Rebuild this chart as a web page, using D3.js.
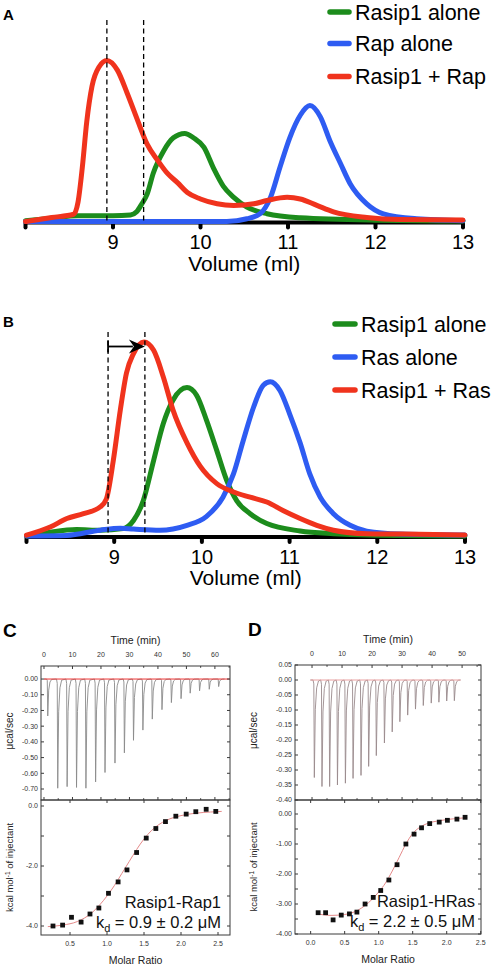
<!DOCTYPE html>
<html><head><meta charset="utf-8">
<script src="https://cdn.jsdelivr.net/npm/d3@7"></script>
<style>body{margin:0;background:#fff}svg{display:block}text{font-family:"Liberation Sans",Arial,sans-serif}</style>
</head><body><svg id="c" width="494" height="965"></svg>
<script>
// ---------- Data: size-exclusion chromatograms (volume ml, relative absorbance) ----------
const volumeTicks = [8, 9, 10, 11, 12, 13];
const volumeLabels = ["9", "10", "11", "12", "13"];
const dashedVolumes = [8.93, 9.35];
const legendA = ["Rasip1 alone", "Rap alone", "Rasip1 + Rap"];
const legendB = ["Rasip1 alone", "Ras alone", "Rasip1 + Ras"];
const seriesColors = ["#1c8c1c", "#2e5cf2", "#f0331d"];

const aRasip = [[8.0,0.005],[8.3,0.02],[8.6,0.035],[9.0,0.035],[9.2,0.04],[9.27,0.06],[9.33,0.11],[9.39,0.17],[9.46,0.30],[9.58,0.44],[9.69,0.52],[9.82,0.547],[9.92,0.52],[10.04,0.46],[10.15,0.33],[10.26,0.22],[10.38,0.15],[10.53,0.09],[10.76,0.048],[11.14,0.023],[12.0,0.008],[13.0,0.003]];
const aRap = [[8.0,0],[10.3,0],[10.53,0.017],[10.68,0.048],[10.80,0.15],[10.91,0.34],[11.02,0.52],[11.14,0.66],[11.25,0.72],[11.37,0.65],[11.48,0.50],[11.6,0.36],[11.71,0.235],[11.9,0.11],[12.09,0.048],[12.47,0.017],[13.0,0.005]];
const aComplex = [[8.0,0.0],[8.3,0.025],[8.55,0.045],[8.6,0.12],[8.65,0.34],[8.7,0.62],[8.76,0.84],[8.84,0.96],[8.93,1.0],[9.05,0.94],[9.16,0.80],[9.28,0.63],[9.39,0.48],[9.51,0.38],[9.62,0.30],[9.74,0.24],[9.85,0.18],[10.0,0.14],[10.19,0.11],[10.38,0.10],[10.61,0.11],[10.76,0.13],[10.99,0.15],[11.14,0.14],[11.33,0.10],[11.52,0.06],[11.9,0.025],[12.28,0.012],[13.0,0.01]];

const bRasip = [[8.0,0],[8.27,0.02],[8.57,0.033],[8.84,0.03],[9.1,0.038],[9.22,0.08],[9.33,0.18],[9.45,0.39],[9.56,0.58],[9.67,0.70],[9.83,0.765],[9.94,0.725],[10.05,0.60],[10.17,0.44],[10.28,0.29],[10.4,0.18],[10.55,0.115],[10.74,0.064],[11.12,0.026],[11.5,0.012],[11.88,0.005],[13.0,0]];
const bRas = [[8.0,0],[8.46,0.003],[8.84,0.03],[9.07,0.04],[9.22,0.036],[9.52,0.03],[9.83,0.055],[10.05,0.1],[10.24,0.2],[10.36,0.32],[10.47,0.49],[10.59,0.665],[10.7,0.777],[10.78,0.795],[10.89,0.75],[11.0,0.63],[11.12,0.48],[11.23,0.32],[11.35,0.2],[11.5,0.115],[11.69,0.055],[11.88,0.025],[12.26,0.01],[13.0,0.005]];
const bComplex = [[8.0,0.004],[8.27,0.046],[8.46,0.09],[8.65,0.115],[8.84,0.15],[8.91,0.19],[8.99,0.39],[9.07,0.65],[9.14,0.84],[9.22,0.94],[9.34,1.0],[9.45,0.957],[9.56,0.82],[9.67,0.65],[9.83,0.48],[9.98,0.36],[10.17,0.27],[10.36,0.227],[10.55,0.20],[10.74,0.175],[10.93,0.13],[11.12,0.09],[11.31,0.055],[11.5,0.03],[11.88,0.012],[12.26,0.01],[13.0,0.005]];

// ---------- Data: ITC ----------
const cTimes = [1.2,4.7,8.0,11.3,14.6,18.0,21.3,24.8,28.1,31.3,34.6,37.9,41.3,44.6,48.0,51.2,54.5,57.9,61.2];
const cDepths = [-0.235,-0.695,-0.685,-0.69,-0.695,-0.655,-0.595,-0.535,-0.47,-0.39,-0.325,-0.255,-0.195,-0.15,-0.125,-0.09,-0.075,-0.065,-0.048];
const dTimes = [0.65,3.2,5.75,8.35,11.0,13.55,16.2,18.75,21.3,24.0,26.6,29.15,31.75,34.35,36.95,39.6,42.15,44.75,47.3];
const dDepths = [-0.325,-0.355,-0.355,-0.35,-0.344,-0.328,-0.318,-0.288,-0.252,-0.21,-0.173,-0.139,-0.117,-0.097,-0.085,-0.077,-0.074,-0.07,-0.069];

const cRatio = [0.27,0.40,0.52,0.65,0.77,0.89,1.02,1.15,1.27,1.40,1.53,1.66,1.79,1.93,2.07,2.20,2.34,2.47];
const cHeat = [-4.0,-3.97,-3.71,-3.87,-3.60,-3.40,-2.91,-2.53,-2.13,-1.55,-1.07,-0.75,-0.52,-0.34,-0.27,-0.19,-0.11,-0.18];
const cFitRatio = [0.2,0.4,0.6,0.8,0.9,1.0,1.1,1.2,1.3,1.4,1.5,1.6,1.7,1.8,2.0,2.2,2.4,2.55];
const cFitHeat = [-4.02,-3.97,-3.85,-3.55,-3.3,-3.0,-2.65,-2.25,-1.85,-1.45,-1.1,-0.82,-0.62,-0.48,-0.32,-0.24,-0.2,-0.18];

const dRatio = [0.11,0.22,0.33,0.45,0.57,0.68,0.80,0.92,1.03,1.15,1.27,1.40,1.52,1.63,1.75,1.89,2.01,2.15,2.27];
const dHeat = [-3.29,-3.29,-3.53,-3.37,-3.33,-3.27,-3.00,-2.78,-2.55,-2.20,-1.69,-1.00,-0.67,-0.46,-0.32,-0.27,-0.21,-0.17,-0.11];
const dFitRatio = [0.1,0.3,0.5,0.7,0.8,0.9,1.0,1.1,1.2,1.3,1.4,1.5,1.6,1.7,1.9,2.1,2.3];
const dFitHeat = [-3.33,-3.38,-3.35,-3.2,-3.05,-2.85,-2.6,-2.3,-1.9,-1.45,-1.0,-0.65,-0.45,-0.33,-0.22,-0.16,-0.12];

const cTimeTicks = [0,10,20,30,40,50,60];
const cRawTicks = [0,-0.1,-0.2,-0.3,-0.4,-0.5,-0.6,-0.7];
const cRatioTicks = [0.5,1.0,1.5,2.0,2.5];
const cHeatTicks = [0,-2,-4];
const dTimeTicks = [0,10,20,30,40,50];
const dRawTicks = [0.05,0,-0.05,-0.1,-0.15,-0.2,-0.25,-0.3,-0.35,-0.4];
const dRatioTicks = [0,0.5,1.0,1.5,2.0,2.5];
const dHeatTicks = [0,-1,-2,-3,-4];

// ---------- Drawing ----------
const svg = d3.select("#c");

function secPanel(cfg) {
  const g = svg.append("g");
  const x = d3.scaleLinear().domain([8, 13]).range([cfg.x0, cfg.x1]);
  const y = d3.scaleLinear().domain([0, 1]).range([cfg.base, cfg.top]);
  g.append("line").attr("x1", x(8)).attr("x2", x(13)).attr("y1", cfg.base + 1).attr("y2", cfg.base + 1)
    .attr("stroke", "#000").attr("stroke-width", 4);
  g.selectAll(".tk").data(volumeTicks).join("line")
    .attr("x1", d => x(d)).attr("x2", d => x(d)).attr("y1", cfg.base + 2).attr("y2", cfg.base + 6)
    .attr("stroke", "#000").attr("stroke-width", 4).attr("stroke-linecap", "round");
  g.selectAll(".tl").data(volumeLabels).join("text")
    .attr("x", d => x(+d)).attr("y", cfg.base + 27.5).attr("text-anchor", "middle")
    .attr("font-size", 20).text(d => d);
  g.append("text").attr("x", x(10.5)).attr("y", cfg.base + 49).attr("text-anchor", "middle")
    .attr("font-size", 21).text("Volume (ml)");
  const line = d3.line().x(d => x(d[0])).y(d => y(d[1])).curve(d3.curveMonotoneX);
  cfg.series.forEach((s, i) => {
    g.append("path").attr("d", line(s)).attr("fill", "none").attr("stroke", seriesColors[i])
      .attr("stroke-width", 5).attr("stroke-linejoin", "round").attr("stroke-linecap", "round");
  });
  g.selectAll(".dl").data(dashedVolumes).join("line")
    .attr("x1", d => x(d)).attr("x2", d => x(d)).attr("y1", cfg.dashTop).attr("y2", cfg.base)
    .attr("stroke", "#000").attr("stroke-width", 1.3).attr("stroke-dasharray", "5,3.5");
  cfg.legend.forEach((t, i) => {
    const ly = cfg.legY[i];
    g.append("line").attr("x1", cfg.legX).attr("x2", cfg.legX + cfg.legW).attr("y1", ly).attr("y2", ly)
      .attr("stroke", seriesColors[i]).attr("stroke-width", 5.5).attr("stroke-linecap", "round");
    g.append("text").attr("x", cfg.legX + cfg.legW + 6).attr("y", ly + 7.5).attr("font-size", 21.5).text(t);
  });
  g.append("text").attr("x", 3).attr("y", cfg.labelY).attr("font-size", 15).attr("font-weight", "bold").text(cfg.label);
  return {x, y, g};
}

secPanel({x0: 25.5, x1: 463, base: 221.5, top: 60.5, dashTop: 20, series: [aRasip, aRap, aComplex],
  legend: legendA, legX: 330, legW: 19, legY: [12, 43.5, 76.5], label: "A", labelY: 20});
const pB = secPanel({x0: 26.5, x1: 465, base: 536, top: 342, dashTop: 332, series: [bRasip, bRas, bComplex],
  legend: legendB, legX: 335, legW: 20, legY: [324, 357, 390], label: "B", labelY: 327});
{
  const xa = pB.x(dashedVolumes[0]), xb = pB.x(dashedVolumes[1]), ya = 346.5;
  pB.g.append("line").attr("x1", xa).attr("x2", xb - 12).attr("y1", ya).attr("y2", ya).attr("stroke", "#000").attr("stroke-width", 1.8);
  pB.g.append("line").attr("x1", xa).attr("x2", xa).attr("y1", ya - 6).attr("y2", ya + 6).attr("stroke", "#000").attr("stroke-width", 1.8);
  pB.g.append("path").attr("d", `M${xb},${ya} L${xb - 16},${ya - 7} L${xb - 11},${ya} L${xb - 16},${ya + 7} Z`).attr("fill", "#000");
}

// ---------- ITC panels ----------
const frameColor = "#3a3a3a";
function fmt(d, n) { return d3.format(`.${n}f`)(d).replace("\u2212", "-"); }

function frame(g, x0, x1, y0, y1) {
  g.append("rect").attr("x", x0).attr("y", y0).attr("width", x1 - x0).attr("height", y1 - y0)
    .attr("fill", "none").attr("stroke", frameColor).attr("stroke-width", 1);
}
function ticksX(g, xs, vals, y0, y1, len) {
  vals.forEach(v => {
    g.append("line").attr("x1", xs(v)).attr("x2", xs(v)).attr("y1", y0).attr("y2", y0 + len).attr("stroke", frameColor);
    g.append("line").attr("x1", xs(v)).attr("x2", xs(v)).attr("y1", y1).attr("y2", y1 - len).attr("stroke", frameColor);
  });
}
function ticksY(g, ys, vals, x0, x1, len) {
  vals.forEach(v => {
    g.append("line").attr("y1", ys(v)).attr("y2", ys(v)).attr("x1", x0).attr("x2", x0 + len).attr("stroke", frameColor);
    g.append("line").attr("y1", ys(v)).attr("y2", ys(v)).attr("x1", x1).attr("x2", x1 - len).attr("stroke", frameColor);
  });
}

function itcPanel(cfg) {
  const g = svg.append("g");
  const L = cfg.left, R = cfg.right;
  // --- upper raw thermogram ---
  const xt = d3.scaleLinear().domain(cfg.timeDomain).range([L, R]);
  const yr = d3.scaleLinear().domain(cfg.rawDomain).range([cfg.mid, cfg.top]);
  const pts = [[cfg.times[0] - 1.2, 0]];
  cfg.times.forEach((t, i) => {
    const d = cfg.depths[i];
    pts.push([t - 0.3, 0], [t - 0.05, d * 0.04], [t + 0.12, d], [t + 0.45, d * 0.3], [t + 0.9, d * 0.08], [t + 1.5, d * 0.01]);
  });
  pts.push([cfg.times[cfg.times.length - 1] + 2.2, 0]);
  g.append("path").attr("d", d3.line().x(d => xt(d[0])).y(d => yr(d[1]))(pts))
    .attr("fill", "none").attr("stroke", cfg.traceColor).attr("stroke-width", 0.9);
  g.append("line").attr("x1", xt(cfg.baseFrom)).attr("x2", xt(cfg.baseTo)).attr("y1", yr(0)).attr("y2", yr(0))
    .attr("stroke", cfg.baseColor).attr("stroke-width", 1);
  frame(g, L, R, cfg.top, cfg.mid);
  ticksX(g, xt, cfg.timeTicks, cfg.top, cfg.mid, 3);
  ticksX(g, xt, cfg.timeTicks.map(v => v + 5).filter(v => v < cfg.timeDomain[1]), cfg.top, cfg.mid, 1.8);
  ticksY(g, yr, cfg.rawTicks, L, R, 3);
  cfg.timeTicks.forEach(v => g.append("text").attr("x", xt(v)).attr("y", cfg.top - 9).attr("text-anchor", "middle")
    .attr("font-size", 7).attr("fill", "#333").text(v));
  cfg.rawTicks.forEach(v => g.append("text").attr("x", L - 3).attr("y", yr(v) + 2.4).attr("text-anchor", "end")
    .attr("font-size", 7).attr("fill", "#333").text(fmt(v, 2)));
  g.append("text").attr("x", (L + R) / 2).attr("y", cfg.top - 22).attr("text-anchor", "middle")
    .attr("font-size", 10.5).attr("fill", "#222").text("Time (min)");
  g.append("text").attr("transform", `translate(${cfg.ylabX},${(cfg.top + cfg.mid) / 2 - 2}) rotate(-90)`)
    .attr("text-anchor", "middle").attr("font-size", 10).attr("fill", "#222").text("μcal/sec");

  // --- lower isotherm ---
  const xm = d3.scaleLinear().domain(cfg.ratioDomain).range([L, R]);
  const yh = d3.scaleLinear().domain(cfg.heatDomain).range([cfg.bottom, cfg.mid]);
  const fit = cfg.fitRatio.map((r, i) => [r, cfg.fitHeat[i]]);
  g.append("path").attr("d", d3.line().x(d => xm(d[0])).y(d => yh(d[1])).curve(d3.curveMonotoneX)(fit))
    .attr("fill", "none").attr("stroke", "#e58a8a").attr("stroke-width", 1);
  g.selectAll(".sq").data(cfg.ratio.map((r, i) => [r, cfg.heat[i]])).join("rect")
    .attr("x", d => xm(d[0]) - 2.4).attr("y", d => yh(d[1]) - 2.4).attr("width", 4.8).attr("height", 4.8).attr("fill", "#111");
  frame(g, L, R, cfg.mid, cfg.bottom);
  cfg.ratioTicks.forEach(v => {
    g.append("line").attr("x1", xm(v)).attr("x2", xm(v)).attr("y1", cfg.bottom).attr("y2", cfg.bottom - 3).attr("stroke", frameColor);
    g.append("line").attr("x1", xm(v)).attr("x2", xm(v)).attr("y1", cfg.mid).attr("y2", cfg.mid + 3).attr("stroke", frameColor);
  });
  ticksY(g, yh, cfg.heatMinor, L, R, 3);
  cfg.ratioTicks.forEach(v => g.append("text").attr("x", xm(v)).attr("y", cfg.bottom + 11).attr("text-anchor", "middle")
    .attr("font-size", 7).attr("fill", "#333").text(fmt(v, 1)));
  cfg.heatTicks.forEach(v => g.append("text").attr("x", L - 3).attr("y", yh(v) + 2.4).attr("text-anchor", "end")
    .attr("font-size", 7).attr("fill", "#333").text(fmt(v, cfg.heatDigits)));
  g.append("text").attr("x", (L + R) / 2).attr("y", cfg.bottom + 29).attr("text-anchor", "middle")
    .attr("font-size", 10.5).attr("fill", "#222").text("Molar Ratio");
  const yl = g.append("text").attr("transform", `translate(${cfg.ylabX},${(cfg.mid + cfg.bottom) / 2}) rotate(-90)`)
    .attr("text-anchor", "middle").attr("font-size", 9.5).attr("fill", "#222");
  yl.append("tspan").text("kcal mol");
  yl.append("tspan").attr("font-size", 6.5).attr("baseline-shift", "super").text("-1");
  yl.append("tspan").text(" of injectant");
  g.append("text").attr("x", cfg.annX).attr("y", cfg.bottom - 27).attr("text-anchor", "end")
    .attr("font-size", 16.5).attr("fill", "#111").text(cfg.name);
  const kd = g.append("text").attr("x", cfg.annX).attr("y", cfg.bottom - 7).attr("text-anchor", "end")
    .attr("font-size", 16.5).attr("fill", "#111");
  kd.append("tspan").text("k");
  kd.append("tspan").attr("font-size", 11).attr("dy", 4).text("d");
  kd.append("tspan").attr("dy", -4).text(" = " + cfg.kd);
  g.append("text").attr("x", cfg.labelX).attr("y", cfg.top - 29).attr("font-size", 19).attr("font-weight", "bold").text(cfg.label);
}

itcPanel({left: 41, right: 230, top: 666, mid: 800, bottom: 935,
  timeDomain: [-1.05, 65.3], rawDomain: [-0.77, 0.083], times: cTimes, depths: cDepths,
  traceColor: "#8a8a8a", baseColor: "#e33", baseFrom: 0, baseTo: 65.3,
  timeTicks: cTimeTicks, rawTicks: cRawTicks,
  ratioDomain: [0.108, 2.662], heatDomain: [-4.3, 0.2], ratio: cRatio, heat: cHeat,
  fitRatio: cFitRatio, fitHeat: cFitHeat, ratioTicks: cRatioTicks, heatTicks: cHeatTicks,
  heatMinor: [0, -1, -2, -3, -4], heatDigits: 1, ylabX: 13,
  annX: 221, name: "Rasip1-Rap1", kd: "0.9 ± 0.2 μM", label: "C", labelX: 3});

itcPanel({left: 295, right: 481, top: 665, mid: 800, bottom: 934,
  timeDomain: [-5.67, 56.3], rawDomain: [-0.40, 0.05], times: dTimes, depths: dDepths,
  traceColor: "#9a8a8c", baseColor: "#e9a0a0", baseFrom: -0.5, baseTo: 49.5,
  timeTicks: dTimeTicks, rawTicks: dRawTicks,
  ratioDomain: [-0.23, 2.504], heatDomain: [-4.0, 0.467], ratio: dRatio, heat: dHeat,
  fitRatio: dFitRatio, fitHeat: dFitHeat, ratioTicks: dRatioTicks, heatTicks: dHeatTicks,
  heatMinor: [0, -0.5, -1, -1.5, -2, -2.5, -3, -3.5, -4], heatDigits: 2, ylabX: 257,
  annX: 475, name: "Rasip1-HRas", kd: "2.2 ± 0.5 μM", label: "D", labelX: 248});
</script></body></html>
